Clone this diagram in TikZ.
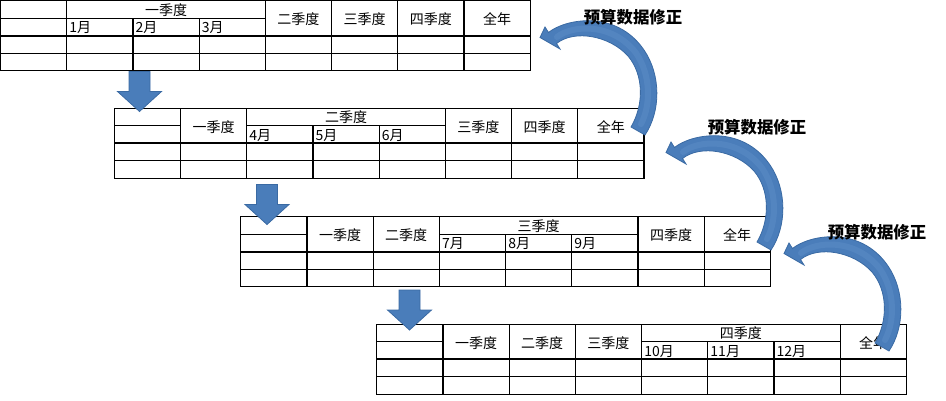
\documentclass[tikz,border=0pt]{standalone}
\usepackage{fontspec}
\setmainfont{Noto Sans CJK SC}
\definecolor{abl}{HTML}{4A7DBA}
\definecolor{abd}{HTML}{3A6AA3}
\definecolor{abh}{HTML}{6A98CF}
\tikzset{
  tline/.style={line width=0.9pt, black},
  tthick/.style={line width=1.6pt, black},
  hdr/.style={inner sep=0pt, font=\fontsize{10.5}{12}\selectfont},
  mon/.style={inner sep=0pt, anchor=base west, font=\fontsize{10.5}{12}\selectfont},
  blockarrow/.style={fill=abl, draw=abd, line width=0.6pt},
  bendarrow/.style={fill=abl, draw=abd, line width=0.6pt},
  bendlight/.style={draw=abh, line width=4.5pt, line cap=round, opacity=0.3},
  titletext/.style={inner sep=0pt, font=\fontsize{12.3}{14}\selectfont\bfseries},
}
\def\cw{66.2}
\def\rh{17.5}
\newcommand\qlabel[1]{\ifcase#1\or 一季度\or 二季度\or 三季度\or 四季度\fi}
\newcommand\budgettable[4]{%
  \begin{scope}[shift={(#2,#3)}]
    \foreach \i in {1,...,7}{
      \pgfmathsetmacro\ys{(\i>#4 && \i<#4+3) ? \rh : 0}
      \draw[tline] (\i*\cw,\ys) -- (\i*\cw,4*\rh);
    }
    \draw[tline] (0,0) rectangle (8*\cw,4*\rh);
    \draw[tline] (0,\rh) -- (\cw,\rh);
    \draw[tline] (#4*\cw,\rh) -- ({(#4+3)*\cw},\rh);
    \draw[tline] (0,3*\rh) -- (8*\cw,3*\rh);
    \draw[tthick] (0,2*\rh) -- (8*\cw,2*\rh);
    \foreach \j in {1,...,4}{
      \ifnum\j<#4\relax
        \node[hdr] (#1q\j) at ({(\j+0.5)*\cw},\rh+1) {\qlabel{\j}};
      \else\ifnum\j=#4\relax
        \node[hdr] (#1q\j) at ({(\j+1.5)*\cw},\rh/2+0.5) {\qlabel{\j}};
      \else
        \node[hdr] (#1q\j) at ({(\j+2.5)*\cw},\rh+1) {\qlabel{\j}};
      \fi\fi
    }
    \node[hdr] (#1y) at (7.5*\cw,\rh+1) {全年};
    \foreach \k in {0,1,2}{
      \pgfmathtruncatemacro\mn{3*(#4-1)+\k+1}
      \node[mon] (#1m\k) at ({(#4+\k)*\cw+2.5},2*\rh-3.3) {\mn 月};
    }
  \end{scope}}
\newcommand\downarrowat[2]{%
  \draw[blockarrow] (#1-10.5,#2-40) -- (#1+10.5,#2-40) -- (#1+10.5,#2-20)
    -- (#1+22,#2-20) -- (#1,#2) -- (#1-22,#2-20) -- (#1-10.5,#2-20) -- cycle;}
\newcommand\bentarrow[2]{%
  \begin{scope}[shift={(#1,#2)}]
    \draw[bendarrow] (548.5,32.5) .. controls (565,19) and (616,9) .. (644,50)
      .. controls (661,75) and (661,111) .. (645,135) -- (631,127)
      .. controls (644,105) and (644,75) .. (628,56)
      .. controls (610,36) and (575,29) .. (556.5,43.5)
      -- (560,49) -- (540,37.5) -- (545,27) -- cycle;
    \draw[bendlight] (557,37) .. controls (572,25) and (612,22) .. (636,53)
      .. controls (651,75) and (651,105) .. (641,124);
  \end{scope}}
\begin{document}
\begin{tikzpicture}[x=0.75pt,y=-0.75pt]
  \useasboundingbox (0,0) rectangle (946,400);
  \budgettable{ta}{0.5}{0.7}{1}
  \budgettable{tb}{114.3}{108.3}{2}
  \budgettable{tc}{240.7}{216.7}{3}
  \budgettable{td}{376.7}{324.3}{4}
  \downarrowat{139.5}{111.5}
  \downarrowat{267}{224.5}
  \downarrowat{409.5}{330}
  \bentarrow{0}{0}
  \bentarrow{126}{115}
  \bentarrow{244}{216}
  \node[titletext] (r1) at (633,17.5) {预算数据修正};
  \node[titletext] (r2) at (757,127.5) {预算数据修正};
  \node[titletext] (r3) at (877,232.5) {预算数据修正};
\end{tikzpicture}
\end{document}
